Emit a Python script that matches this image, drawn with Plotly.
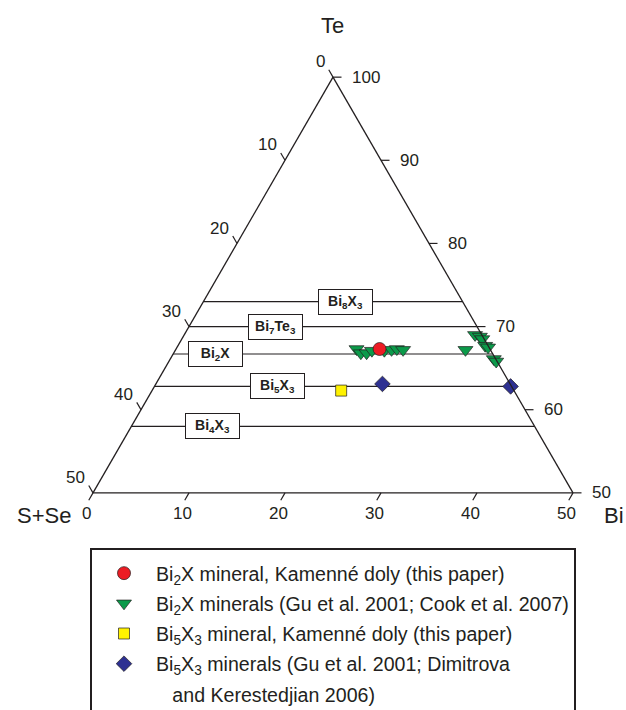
import math
import plotly.graph_objects as go

# ---------------- data (Te = top, S+Se = bottom-left, Bi = bottom-right) ----------------
phase_labels = ["Bi<sub>8</sub>X<sub>3</sub>", "Bi<sub>7</sub>Te<sub>3</sub>", "Bi<sub>2</sub>X",
                "Bi<sub>5</sub>X<sub>3</sub>", "Bi<sub>4</sub>X<sub>3</sub>"]
phase_te = [73.0, 70.0, 66.7, 62.8, 58.0]
phase_label_bi = [14.8, 9.0, 4.4, 12.8, 8.5]

red_te = [67.3]
red_ss = [11.5]
red_bi = [21.2]

green_te = [67.3, 66.8, 66.8, 67.1, 67.1, 67.2, 67.3, 67.2, 69.0, 68.8, 68.5, 67.7, 67.5, 66.1, 65.8, 67.2]
green_ss = [13.9, 13.7, 13.1, 12.4, 11.1, 10.3, 9.7, 9.1, 0.7, 0.3, 0.2, 0.3, 0.1, 0.2, 0.1, 2.6]
green_bi = [18.8, 19.5, 20.1, 20.5, 21.8, 22.5, 23.0, 23.7, 30.3, 30.9, 31.3, 32.0, 32.4, 33.7, 34.1, 30.2]

yellow_te = [62.3]
yellow_ss = [18.0]
yellow_bi = [19.7]

blue_te = [63.1, 62.8]
blue_ss = [13.3, 0.1]
blue_bi = [23.6, 37.1]

te_ticks = [50, 60, 70, 80, 90, 100]
ss_ticks = [0, 10, 20, 30, 40, 50]
bi_ticks = [0, 10, 20, 30, 40, 50]

legend_names = [
    "Bi<sub>2</sub>X mineral, Kamenné doly (this paper)",
    "Bi<sub>2</sub>X minerals (Gu et al. 2001; Cook et al. 2007)",
    "Bi<sub>5</sub>X<sub>3</sub> mineral, Kamenné doly (this paper)",
    "Bi<sub>5</sub>X<sub>3</sub> minerals (Gu et al. 2001; Dimitrova",
    "\u00a0\u00a0\u00a0and Kerestedjian 2006)",
]

# ---------------- geometry (mirrors plotly's ternary layout) ----------------
W, H = 626, 710
OFF = 0                      # body margin removed by post_script below
ML, MT = 93, 77
GW, GH = 480, 416
MR, MB = W - ML - GW, H - MT - GH
SQ3 = math.sqrt(3)
if GW * SQ3 > GH * 2:
    TH = GH
    TW = TH * 2 / SQ3
else:
    TW = GW
    TH = TW * SQ3 / 2
X0 = ML + GW * 0.5 - TW / 2
Y0 = MT + GH * 0.5 - TH / 2
TSUM, AMIN = 100.0, 50.0
SPAN = TSUM - AMIN


def to_px(a, b, c):
    """ternary -> page pixel position"""
    s = a + b + c
    an = (a / s * TSUM - AMIN) / SPAN
    cn = (c / s * TSUM) / SPAN
    return OFF + X0 + TW * (cn + an / 2), OFF + Y0 + TH * (1 - an)


def to_paper(x, y):
    return (x - OFF - ML) / GW, 1 - (y - OFF - MT) / GH


INK = "#231f20"
FONT = "Liberation Sans, Arial, sans-serif"

fig = go.Figure()

# phase composition lines (constant Te)
for te in phase_te:
    fig.add_trace(go.Scatterternary(
        a=[te, te], b=[TSUM - te, 0], c=[0, TSUM - te], mode="lines",
        line=dict(color=INK, width=1.2), showlegend=False, hoverinfo="skip"))

mk_line = dict(color=INK, width=0.7)
fig.add_trace(go.Scatterternary(
    a=green_te, b=green_ss, c=green_bi, mode="markers", name=legend_names[1],
    marker=dict(symbol="triangle-down", size=13, color="#0b9a4a", line=mk_line),
    cliponaxis=False, legendgroup="g2", legendrank=2))
fig.add_trace(go.Scatterternary(
    a=red_te, b=red_ss, c=red_bi, mode="markers", name=legend_names[0],
    marker=dict(symbol="circle", size=13, color="#ec1c24", line=mk_line),
    cliponaxis=False, legendgroup="g1", legendrank=1))
fig.add_trace(go.Scatterternary(
    a=yellow_te, b=yellow_ss, c=yellow_bi, mode="markers", name=legend_names[2],
    marker=dict(symbol="square", size=11, color="#fff200", line=mk_line),
    cliponaxis=False, legendgroup="g3", legendrank=3))
fig.add_trace(go.Scatterternary(
    a=blue_te, b=blue_ss, c=blue_bi, mode="markers", name=legend_names[3],
    marker=dict(symbol="diamond", size=12, color="#2e3192", line=mk_line),
    cliponaxis=False, legendgroup="g4", legendrank=4))
fig.add_trace(go.Scatterternary(
    a=[None], b=[None], c=[None], mode="markers", name=legend_names[4],
    marker=dict(size=1, color="rgba(0,0,0,0)"), legendgroup="g5", legendrank=5,
    hoverinfo="skip"))

shapes = []
annotations = []
TICK = 8.5


def add_tick(x1, y1, x2, y2):
    p1 = to_paper(x1, y1)
    p2 = to_paper(x2, y2)
    shapes.append(dict(type="line", xref="paper", yref="paper", x0=p1[0], y0=p1[1],
                       x1=p2[0], y1=p2[1], line=dict(color=INK, width=1.2)))


def add_text(x, y, text, size, xanchor="center", yanchor="middle"):
    px, py = to_paper(x, y)
    annotations.append(dict(xref="paper", yref="paper", x=px, y=py, text=text, showarrow=False,
                            xanchor=xanchor, yanchor=yanchor,
                            font=dict(family=FONT, size=size, color=INK)))


# Te ticks on right edge (horizontal)
for t in te_ticks:
    x, y = to_px(t, 0, TSUM - t)
    add_tick(x, y, x + TICK, y)
    add_text(x + TICK + 8, y, str(t), 17, xanchor="left")

# S+Se ticks on left edge (pointing up-left)
for t in ss_ticks:
    x, y = to_px(TSUM - t, t, 0)
    ex, ey = x - TICK * 0.5, y - TICK * SQ3 / 2
    add_tick(x, y, ex, ey)
    add_text(ex - 2, ey - 8, str(t), 17, xanchor="right")

# Bi ticks on bottom edge (pointing down-left)
for t in bi_ticks:
    x, y = to_px(AMIN, SPAN - t, t)
    ex, ey = x - TICK * 0.5, y + TICK * SQ3 / 2
    add_tick(x, y, ex, ey)
    add_text(ex - 2, ey + 13.5, str(t), 17)

# corner titles
ax, ay = to_px(100, 0, 0)
add_text(ax - 1, ay - 52, "Te", 22)
lx, ly = to_px(50, 50, 0)
add_text(lx - 20, ly + 23, "S+Se", 22, xanchor="right")
rx, ry = to_px(50, 0, 50)
add_text(rx + 29, ry + 23, "Bi", 22, xanchor="left")

# phase label boxes
for lab, te, bi in zip(phase_labels, phase_te, phase_label_bi):
    x, y = to_px(te, TSUM - te - bi, bi)
    px, py = to_paper(x, y)
    annotations.append(dict(xref="paper", yref="paper", x=px, y=py, text="<b>" + lab + "</b>",
                            showarrow=False, xanchor="center", yanchor="middle",
                            font=dict(family=FONT, size=14, color=INK),
                            bgcolor="white", bordercolor=INK, borderwidth=1, borderpad=3,
                            width=47, height=18))

axis_style = dict(showgrid=False, showticklabels=False, ticks="", showline=True,
                  linecolor=INK, linewidth=1.3, title=dict(text=""))

lgx, lgy = to_paper(90, 548)
fig.update_layout(
    width=W, height=H,
    margin=dict(l=ML, r=MR, t=MT, b=MB, autoexpand=False),
    paper_bgcolor="white",
    ternary=dict(sum=TSUM, bgcolor="white",
                 aaxis=dict(min=AMIN, **axis_style),
                 baxis=dict(min=0, **axis_style),
                 caxis=dict(min=0, **axis_style)),
    shapes=shapes,
    annotations=annotations,
    showlegend=True,
    legend=dict(x=lgx, y=lgy, xanchor="left", yanchor="top",
                font=dict(family=FONT, size=19.6, color=INK),
                title=dict(text="\u00a0", font=dict(size=3)),
                bordercolor=INK, borderwidth=2, bgcolor="white",
                itemwidth=54, traceorder="grouped", tracegroupgap=1.7,
                itemclick=False, itemdoubleclick=False),
    hovermode=False,
)

fig.write_html(
    "out.html",
    config={"displayModeBar": False, "staticPlot": False},
    post_script="document.body.style.margin='0px';"
                "document.documentElement.style.overflow='hidden';"
                "document.body.style.overflow='hidden';",
)
